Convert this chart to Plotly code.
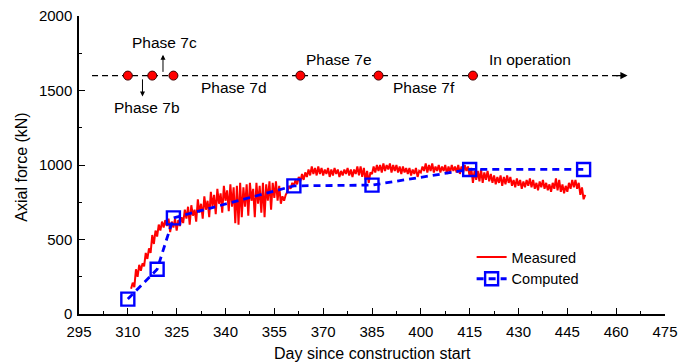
import numpy as np
import plotly.graph_objects as go

FONT = "Liberation Sans, Arial, sans-serif"

# Measured axial force, two readings per day (day 311 .. 450.5)
measured_start_day = 311
measured_step = 0.5
measured_kn = [
    170, 210, 180, 300, 250, 330, 290, 340, 320, 410,
    370, 440, 410, 530, 470, 560, 520, 600, 560, 620,
    580, 630, 590, 640, 550, 620, 580, 640, 560, 630,
    590, 650, 610, 700, 640, 720, 600, 730, 660, 700,
    620, 770, 680, 740, 640, 790, 700, 760, 650, 820,
    720, 800, 670, 840, 740, 810, 680, 860, 760, 830,
    690, 870, 720, 850, 610, 860, 600, 880, 650, 850,
    720, 870, 660, 880, 760, 840, 650, 880, 740, 860,
    680, 880, 650, 870, 760, 890, 700, 880, 780, 890,
    760, 860, 740, 790, 760, 800, 820, 860, 840, 880,
    860, 900, 870, 920, 890, 940, 900, 950, 920, 970,
    930, 990, 940, 980, 930, 990, 940, 980, 930, 970,
    940, 980, 920, 970, 930, 980, 940, 970, 920, 960,
    930, 970, 940, 980, 930, 970, 920, 970, 940, 990,
    930, 990, 920, 980, 900, 960, 880, 950, 940, 990,
    950, 1000, 960, 1000, 950, 1010, 960, 1000, 970, 1010,
    950, 1000, 960, 1000, 950, 990, 940, 990, 950, 980,
    940, 980, 930, 970, 940, 980, 920, 960, 950, 990,
    960, 1010, 950, 1000, 960, 1010, 950, 990, 960, 1000,
    950, 990, 960, 1000, 940, 990, 950, 1000, 960, 990,
    950, 1000, 940, 990, 950, 1000, 960, 990, 920, 980,
    880, 960, 900, 960, 890, 970, 880, 950, 900, 960,
    890, 940, 880, 930, 870, 920, 880, 930, 860, 920,
    870, 930, 880, 920, 860, 900, 850, 910, 860, 900,
    840, 890, 850, 900, 860, 910, 850, 900, 840, 880,
    830, 890, 850, 900, 840, 880, 830, 870, 820, 880,
    840, 910, 830, 900, 820, 870, 810, 860, 820, 880,
    840, 900, 850, 900, 840, 880, 800, 850, 770, 800,
]
measured_day = measured_start_day + measured_step * np.arange(len(measured_kn))

# Computed axial force at the end of each phase
computed_day = [310, 319, 324, 361, 385, 415, 450]
computed_kn = [100, 300, 645, 860, 865, 970, 970]

# Construction phase timeline
phase_day = [310, 317.5, 324, 363, 387, 416]
timeline_level = 1600
timeline_start = 299
timeline_end = 463.5

phase_labels = ["Phase 7c", "Phase 7b", "Phase 7d", "Phase 7e", "Phase 7f", "In operation"]
phase_label_x = [321.3, 316, 342.7, 375, 401, 433.6]
phase_label_y = [1820, 1385, 1520, 1710, 1520, 1710]

fig = go.Figure()

# dashed timeline
fig.add_trace(go.Scatter(
    x=[timeline_start, timeline_end - 2], y=[timeline_level, timeline_level],
    mode="lines", line=dict(color="black", width=1.2, dash="6px,4px"),
    showlegend=False, hoverinfo="skip",
))
fig.add_trace(go.Scatter(
    x=phase_day, y=[timeline_level] * len(phase_day), mode="markers",
    marker=dict(color="#ff0000", size=9, line=dict(color="#400000", width=1)),
    showlegend=False, hoverinfo="skip",
))

fig.add_trace(go.Scatter(
    x=measured_day, y=measured_kn, mode="lines", name="Measured",
    line=dict(color="#ff0000", width=2),
))
fig.add_trace(go.Scatter(
    x=computed_day, y=computed_kn, mode="lines+markers", name="Computed",
    line=dict(color="#0000ff", width=2.8, dash="7px,5px"),
    marker=dict(symbol="square-open", size=13, color="#0000ff", line=dict(width=2.4)),
))

# arrowhead at the end of the timeline
fig.add_annotation(
    x=timeline_end, y=timeline_level, ax=timeline_end - 4, ay=timeline_level,
    xref="x", yref="y", axref="x", ayref="y", text="", showarrow=True,
    arrowhead=2, arrowsize=1.2, arrowwidth=1.2, arrowcolor="black",
)
# phase 7b (down) and 7c (up) pointers
fig.add_annotation(
    x=314.5, y=1460, ax=314.5, ay=1585, xref="x", yref="y", axref="x", ayref="y",
    text="", showarrow=True, arrowhead=2, arrowsize=1, arrowwidth=1, arrowcolor="black",
)
fig.add_annotation(
    x=320.8, y=1740, ax=320.8, ay=1615, xref="x", yref="y", axref="x", ayref="y",
    text="", showarrow=True, arrowhead=2, arrowsize=1, arrowwidth=1, arrowcolor="black",
)
for lbl, lx, ly in zip(phase_labels, phase_label_x, phase_label_y):
    fig.add_annotation(
        x=lx, y=ly, xref="x", yref="y", text=lbl, showarrow=False,
        font=dict(family=FONT, size=15.5, color="black"),
    )

# axis titles
fig.add_annotation(
    x=0.5, y=-0.131, xref="paper", yref="paper", text="Day since construction start",
    showarrow=False, font=dict(family=FONT, size=16, color="black"),
    xanchor="center", yanchor="middle",
)
fig.add_annotation(
    x=-0.098, y=0.493, xref="paper", yref="paper", text="Axial force (kN)",
    showarrow=False, textangle=-90, font=dict(family=FONT, size=16, color="black"),
    xanchor="center", yanchor="middle",
)

axis_common = dict(
    showline=True, linecolor="black", linewidth=1.5, mirror=False,
    ticks="inside", ticklen=6, tickwidth=1.3, tickcolor="black",
    showgrid=False, zeroline=False, automargin=False,
    tickfont=dict(family=FONT, size=15, color="black"),
)
fig.update_xaxes(
    range=[295, 475], tick0=295, dtick=15, ticklabelstandoff=3,
    minor=dict(ticks="inside", ticklen=3, dtick=7.5, tick0=295, tickcolor="black"),
    **axis_common,
)
fig.update_yaxes(
    range=[0, 2000], tick0=0, dtick=500, ticklabelstandoff=2,
    minor=dict(ticks="inside", ticklen=3, dtick=250, tick0=0, tickcolor="black"),
    **axis_common,
)

fig.update_layout(
    width=685, height=362,
    margin=dict(l=79, r=20, t=16, b=48),
    paper_bgcolor="white", plot_bgcolor="white",
    font=dict(family=FONT, color="black"),
    legend=dict(
        x=0.67, y=0.245, xanchor="left", yanchor="top",
        bgcolor="rgba(0,0,0,0)", font=dict(family=FONT, size=14.5, color="black"),
        tracegroupgap=0, itemwidth=30,
    ),
)

fig.write_html("out.html")
